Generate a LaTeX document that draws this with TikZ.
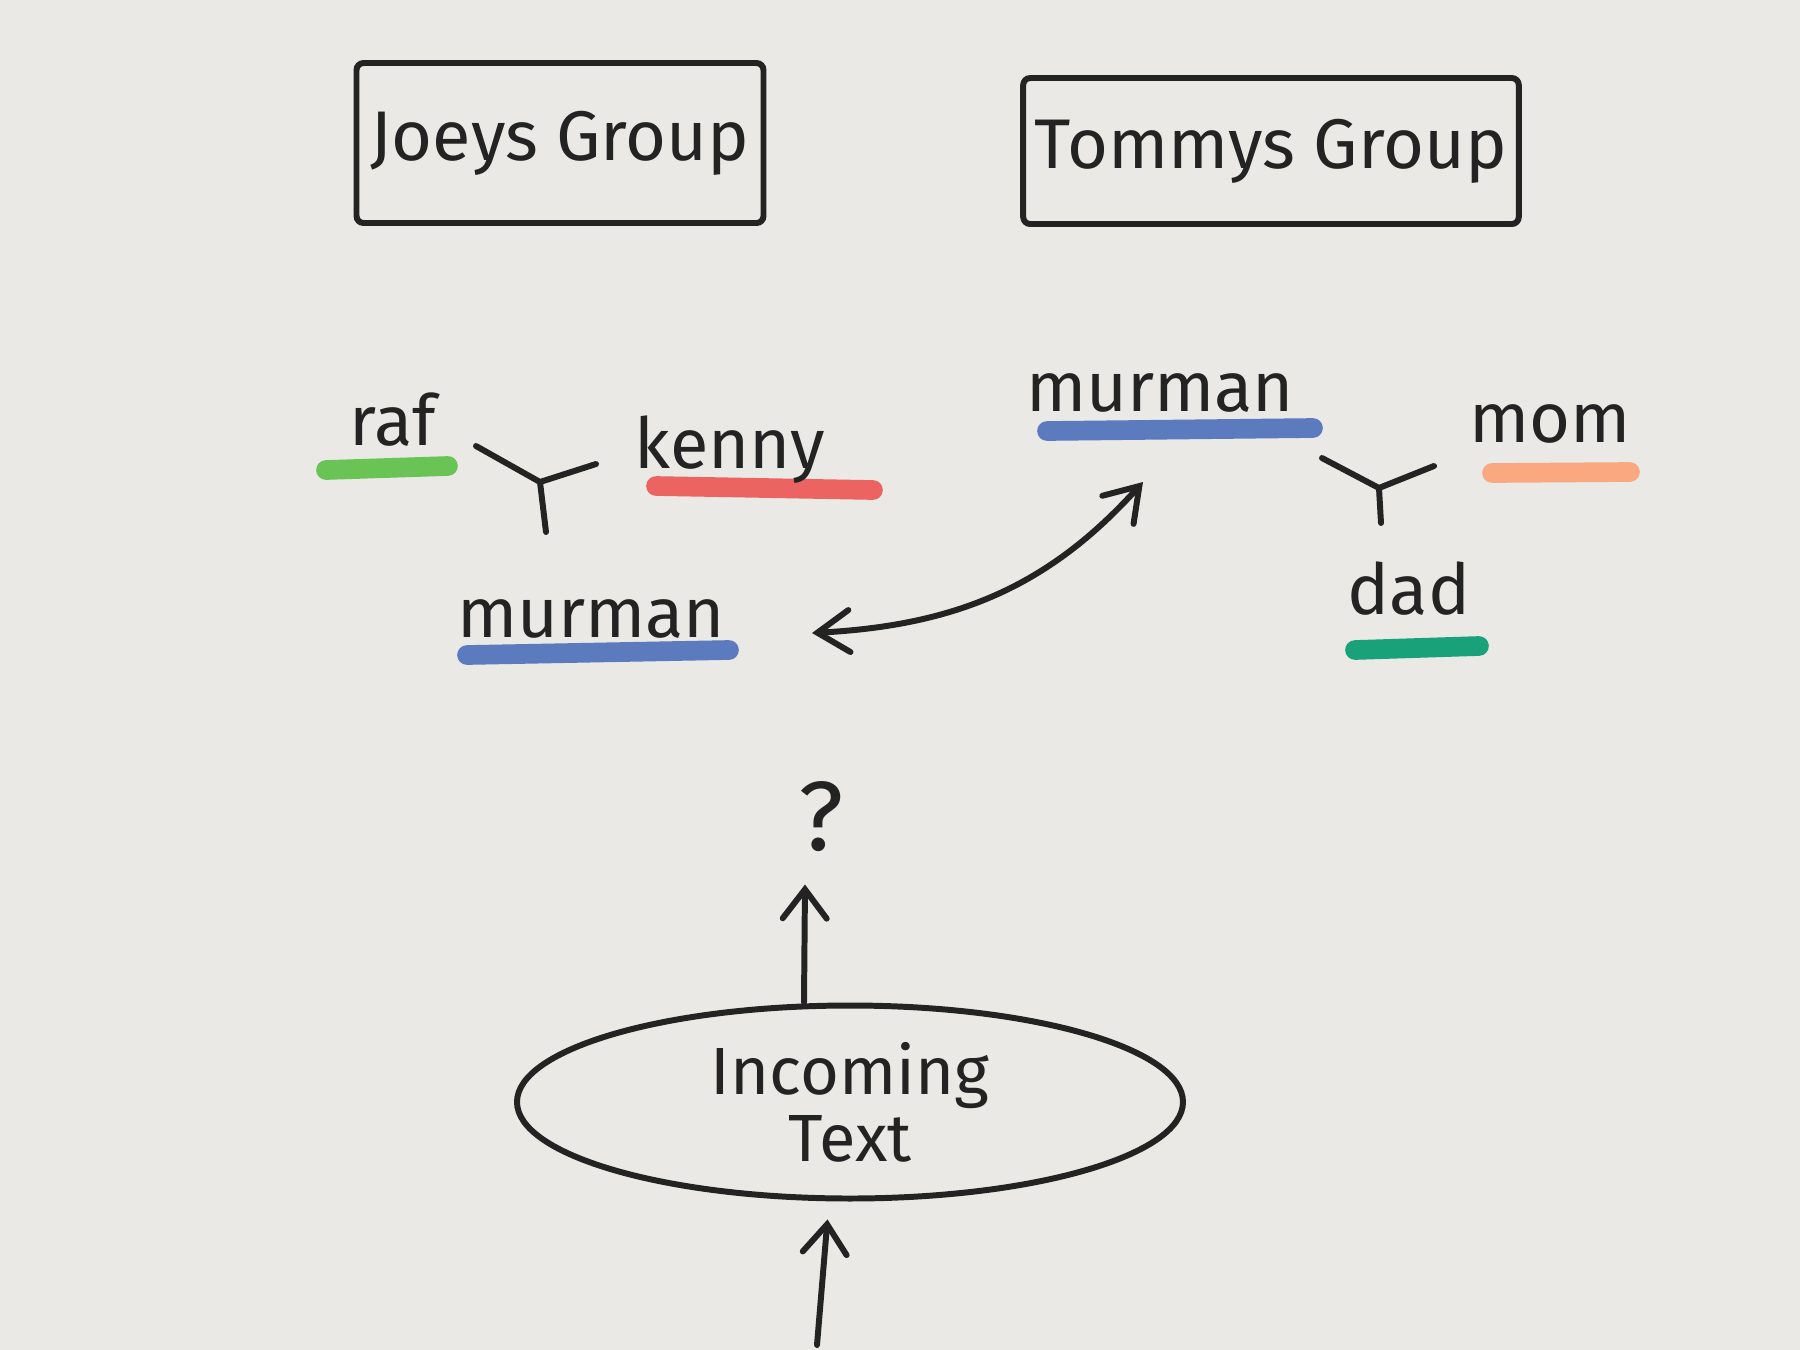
\documentclass[tikz,border=0pt]{standalone}
\usepackage{fontspec}
\setmainfont{Fira Sans}
\usepackage{xcolor}
\usetikzlibrary{arrows.meta,positioning,calc,shapes.geometric}
\definecolor{paper}{RGB}{234,233,230}
\definecolor{ink}{RGB}{35,35,35}
\definecolor{rafgreen}{RGB}{105,195,85}
\definecolor{kennyred}{RGB}{236,100,98}
\definecolor{murblue}{RGB}{92,122,190}
\definecolor{momorange}{RGB}{250,168,128}
\definecolor{dadteal}{RGB}{25,162,122}
\pgfdeclarelayer{bg}
\pgfsetlayers{bg,main}
\tikzset{
  groupbox/.style={draw=ink, line width=1.7pt, rounded corners=2pt, align=center, text=ink, font=\fontsize{20}{24}\selectfont},
  member/.style={anchor=base, text=ink, inner sep=1pt, font=\fontsize{20}{24}\selectfont},
  hl/.style={line width=5.6pt, line cap=round},
  fork/.style={draw=ink, line width=1.7pt, line cap=round},
  line/.style={draw=ink, line width=1.7pt, line cap=round, -{Straight Barb[length=2.9mm,width=4.4mm,line cap=round]}},
  twoway/.style={draw=ink, line width=1.7pt, line cap=round, {Straight Barb[length=3.2mm,width=4.2mm,line cap=round]}-{Straight Barb[length=3.2mm,width=4.2mm,line cap=round]}},
  bubble/.style={draw=ink, ellipse, line width=1.7pt, inner sep=0pt, minimum width=6.66cm, minimum height=1.93cm, align=center, text=ink, font=\fontsize{19}{19}\selectfont}
}
\begin{document}
\begin{tikzpicture}
  % group headers
  \node[groupbox, minimum width=4.07cm, minimum height=1.6cm] (joeys) at (5.6,-1.43) {Joeys Group};
  \node[groupbox, minimum width=4.65cm, minimum height=1.46cm] (tommys) at (12.71,-1.51) {Tommys Group};
  % members
  \node[member] (raf) at (3.93,-4.45) {raf};
  \node[member] (kenny) at (7.30,-4.68) {kenny};
  \node[member] (murman1) at (5.91,-6.37) {murman};
  \node[member] (murman2) at (11.60,-4.11) {murman};
  \node[member] (mom) at (15.50,-4.42) {mom};
  \node[member] (dad) at (14.09,-6.14) {dad};
  % paper and highlighter strokes
  \begin{pgfonlayer}{bg}
    \fill[paper] (0,0) rectangle (18,-13.5);
    \draw[hl, rafgreen] (3.26,-4.70) -- (4.48,-4.66);
    \draw[hl, kennyred] (6.56,-4.86) -- (8.73,-4.90);
    \draw[hl, murblue] (4.67,-6.55) -- (7.29,-6.50);
    \draw[hl, murblue] (10.47,-4.31) -- (13.13,-4.28);
    \draw[hl, momorange] (14.92,-4.73) -- (16.30,-4.72);
    \draw[hl, dadteal] (13.55,-6.50) -- (14.79,-6.46);
  \end{pgfonlayer}
  % joins
  \coordinate (joinJ) at (5.40,-4.82);
  \draw[fork] (4.76,-4.46) -- (joinJ) -- (5.96,-4.64);
  \draw[fork] (joinJ) -- (5.46,-5.32);
  \coordinate (joinT) at (13.79,-4.88);
  \draw[fork] (13.22,-4.58) -- (joinT) -- (14.34,-4.66);
  \draw[fork] (joinT) -- (13.81,-5.23);
  % move between groups
  \coordinate (lnkJ) at (8.12,-6.33);
  \coordinate (lnkT) at (11.43,-4.82);
  \draw[twoway] (lnkJ) to[out=3,in=-132] (lnkT);
  % incoming
  \node[text=ink, font=\fontsize{28}{32}\selectfont] (quest) at (8.21,-8.17) {?};
  \node[bubble] (incoming) at (8.50,-11.02) {Incoming\\Text};
  \coordinate (src) at (8.17,-13.45);
  \draw[line] ([xshift=-4.6mm]incoming.north) -- ([xshift=-1.6mm,yshift=-2mm]quest.south);
  \draw[line, shorten >=1.8mm] (src) -- ([xshift=-2.1mm]incoming.south);
\end{tikzpicture}
\end{document}
